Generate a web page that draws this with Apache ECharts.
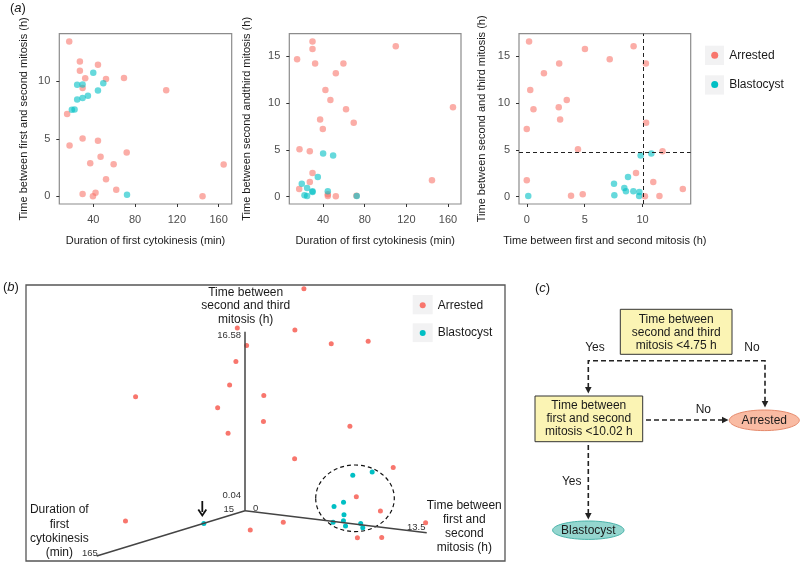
<!DOCTYPE html>
<html>
<head>
<meta charset="utf-8">
<script src="https://cdn.jsdelivr.net/npm/echarts@6.0.0/dist/echarts.min.js"></script>
<style>
  html, body { margin: 0; padding: 0; background: #fff; }
  #chart { width: 800px; height: 563px; }
</style>
</head>
<body>
<div id="chart"></div>
<script>
// one entry per embryo, same order in the three arrays of each group
// cyt = duration of first cytokinesis (min), t12 / t23 = time between mitoses (h)
const arrestedCyt = [17, 27.2, 44.5, 27.2, 69.4, 32.3, 52.2, 29.8, 109.8, 15, 29.8, 44.5, 17.3, 72, 47, 37.1, 59.5, 164.8, 52.2, 62, 42.2, 29.8, 39.7, 144.6]
const arrestedT12 = [13.47, 11.72, 11.45, 10.92, 10.3, 10.28, 10.2, 9.43, 9.22, 7.16, 5.02, 4.83, 4.42, 3.82, 3.45, 2.88, 2.8, 2.76, 1.48, 0.58, 0.3, 0.2, 0, 0]
const arrestedT23 = [0.82, 4.86, 0.07, 1.56, 7.9, 14.25, 0.04, 2.52, 16.1, 14.7, 15.8, 0.25, 5.07, 0.1, 10.35, 8.26, 14.25, 9.57, 13.2, 9.36, 11.4, 16.6, 7.23, 1.74]

const blastoCyt = [40, 49.6, 34.9, 19.5, 22.1, 24.6, 29.8, 44.5, 29.8, 24.6, 72.3]
const blastoT12 = [10.75, 9.83, 8.74, 7.53, 7.56, 8.42, 8.56, 9.2, 9.72, 9.7, 0.13]
const blastoT23 = [4.6, 4.4, 2.1, 1.38, 0.14, 0.92, 0.57, 0.57, 0.5, 0.07, 0.07]

// tick labels of panel (a)
const cytTicks = [40, 80, 120, 160]
const t12Ticks = [0, 5, 10]
const t23Ticks = [0, 5, 10, 15]

// decision tree thresholds (dashed lines + panel c)
const cutT23 = 4.75
const cutT12 = 10.02

// axis ranges of the 3d view in panel (b)
const cytRange = [15, 165]
const t12Range = [0, 13.5]
const t23Range = [0.04, 16.58]

const FONT = 'Liberation Sans, Arial, sans-serif'
const RED = '#F8766D'
const BLUE = '#00BFC4'

function pairs(xs, ys) {
  return xs.map((x, i) => [x, ys[i]])
}

// simple perspective camera for panel (b), grid 3 uses page-pixel units
const cam = {
  o: [245, 510.7],      // where the three axes meet
  u: [96.7, 556],       // end of cytokinesis axis
  v: [426.7, 532.7],    // end of first->second axis
  w: [245, 331.7],      // end of second->third axis
  cu: -0.346, cv: -0.2, cw: 0
}
function project(cyt, t12, t23) {
  let u = (cyt - cytRange[0]) / (cytRange[1] - cytRange[0])
  let v = (t12 - t12Range[0]) / (t12Range[1] - t12Range[0])
  let w = (t23 - t23Range[0]) / (t23Range[1] - t23Range[0])
  let d = 1 + cam.cu * u + cam.cv * v + cam.cw * w
  let p = [0, 1].map(k =>
    cam.o[k] + (u * (cam.u[k] - cam.o[k]) * (1 + cam.cu) +
                v * (cam.v[k] - cam.o[k]) * (1 + cam.cv) +
                w * (cam.w[k] - cam.o[k]) * (1 + cam.cw)) / d)
  return p
}
function project3(cyts, t12s, t23s) {
  return cyts.map((c, i) => project(c, t12s[i], t23s[i]))
}

function valueX(grid, min, max, name, ticks) {
  return {
    type: 'value', gridIndex: grid, min: min, max: max,
    name: name, nameLocation: 'middle', nameGap: 31,
    nameTextStyle: { fontFamily: FONT, fontSize: 11, color: '#1a1a1a' },
    axisLine: { show: false, onZero: false },
    splitLine: { show: false },
    axisTick: { show: true, length: 3, customValues: ticks, lineStyle: { color: '#333' } },
    axisLabel: { customValues: ticks, margin: 10, fontFamily: FONT, fontSize: 11, color: '#4d4d4d' }
  }
}
function valueY(grid, min, max, name, ticks, gap) {
  let ax = valueX(grid, min, max, name, ticks)
  ax.nameGap = gap
  ax.nameRotate = 90
  ax.axisLabel.margin = 9
  return ax
}

function scatterA(name, idx, data, color) {
  return {
    name: name, type: 'scatter', xAxisIndex: idx, yAxisIndex: idx,
    data: data, symbolSize: 6.5,
    itemStyle: { color: color, opacity: 0.6 }
  }
}

function axisLine3(a, b) {
  return {
    type: 'line', xAxisIndex: 3, yAxisIndex: 3, data: [a, b],
    symbol: 'none', silent: true,
    lineStyle: { color: '#444', width: 1.5 }
  }
}

function txt(x, y, text, opts) {
  return {
    type: 'text', x: x, y: y, silent: true,
    style: Object.assign({ text: text, fontFamily: FONT, fontSize: 12, fill: '#1a1a1a',
      align: 'center', verticalAlign: 'middle' }, opts || {})
  }
}
function dashed(points) {
  return {
    type: 'polyline', silent: true, shape: { points: points },
    style: { stroke: '#222', lineWidth: 1.6, lineDash: [5, 3], fill: null }
  }
}
function head(points) {
  return { type: 'polygon', silent: true, shape: { points: points }, style: { fill: '#222' } }
}

function getOption() {
  let origin = project(cytRange[0], t12Range[0], t23Range[0])
  let option = {
    animation: false,
    backgroundColor: '#fff',
    textStyle: { fontFamily: FONT },
    grid: [
      { left: 59.3, top: 33.7, width: 172.4, height: 170.3, show: true, borderColor: '#8c8c8c', borderWidth: 1.2, backgroundColor: 'transparent' },
      { left: 289.3, top: 33.7, width: 171.7, height: 170.3, show: true, borderColor: '#8c8c8c', borderWidth: 1.2, backgroundColor: 'transparent' },
      { left: 519, top: 33.7, width: 171.7, height: 170.3, show: true, borderColor: '#8c8c8c', borderWidth: 1.2, backgroundColor: 'transparent' },
      { left: 26, top: 285, width: 479, height: 276, show: true, borderColor: '#555', borderWidth: 1.3, backgroundColor: 'transparent' }
    ],
    xAxis: [
      valueX(0, 7.5, 172.5, 'Duration of first cytokinesis (min)', cytTicks),
      valueX(1, 7.5, 172.5, 'Duration of first cytokinesis (min)', cytTicks),
      valueX(2, -0.67, 14.15, 'Time between first and second mitosis (h)', t12Ticks),
      { type: 'value', gridIndex: 3, min: 26, max: 505, show: false }
    ],
    yAxis: [
      valueY(0, -0.67, 14.15, 'Time between first and second mitosis (h)', t12Ticks, 30),
      valueY(1, -0.79, 17.43, 'Time between second andthird mitosis (h)', t23Ticks, 37),
      valueY(2, -0.79, 17.43, 'Time between second and third mitosis (h)', t23Ticks, 32),
      { type: 'value', gridIndex: 3, min: 285, max: 561, inverse: true, show: false }
    ],
    legend: [
      {
        orient: 'vertical', left: 711.2, top: 49.3, padding: 0,
        itemWidth: 19, itemHeight: 7, itemGap: 17.2, icon: 'circle', selectedMode: false,
        textStyle: { fontFamily: FONT, fontSize: 12, color: '#1a1a1a' },
        data: [{ name: 'Arrested', itemStyle: { color: RED, opacity: 1 } },
               { name: 'Blastocyst', itemStyle: { color: BLUE, opacity: 1 } }]
      },
      {
        orient: 'vertical', left: 419.7, top: 299.3, padding: 0,
        itemWidth: 20, itemHeight: 6, itemGap: 15.6, icon: 'circle', selectedMode: false,
        textStyle: { fontFamily: FONT, fontSize: 12, color: '#1a1a1a' },
        data: [{ name: 'Arrested', itemStyle: { color: RED, opacity: 1 } },
               { name: 'Blastocyst', itemStyle: { color: BLUE, opacity: 1 } }]
      }
    ],
    series: [
      scatterA('Arrested', 0, pairs(arrestedCyt, arrestedT12), RED),
      scatterA('Blastocyst', 0, pairs(blastoCyt, blastoT12), BLUE),
      scatterA('Arrested', 1, pairs(arrestedCyt, arrestedT23), RED),
      scatterA('Blastocyst', 1, pairs(blastoCyt, blastoT23), BLUE),
      scatterA('Arrested', 2, pairs(arrestedT12, arrestedT23), RED),
      scatterA('Blastocyst', 2, pairs(blastoT12, blastoT23), BLUE),
      // 3d axes of panel (b)
      axisLine3(origin, project(cytRange[1], t12Range[0], t23Range[0])),
      axisLine3(origin, project(cytRange[0], t12Range[1], t23Range[0])),
      axisLine3(origin, project(cytRange[0], t12Range[0], t23Range[1])),
      {
        name: 'Arrested', type: 'scatter', xAxisIndex: 3, yAxisIndex: 3,
        data: project3(arrestedCyt, arrestedT12, arrestedT23),
        symbolSize: 5, itemStyle: { color: RED, opacity: 1 }
      },
      {
        name: 'Blastocyst', type: 'scatter', xAxisIndex: 3, yAxisIndex: 3,
        data: project3(blastoCyt, blastoT12, blastoT23),
        symbolSize: 5, itemStyle: { color: BLUE, opacity: 1 }
      }
    ]
  }

  // thresholds in the third scatter
  option.series[4].markLine = {
    silent: true, symbol: 'none', label: { show: false },
    lineStyle: { color: '#222', type: [4, 3], width: 1 },
    data: [{ xAxis: cutT12 }, { yAxis: cutT23 }]
  }

  let keyBg = { fill: '#f2f2f3' }
  option.graphic = [
    // panel letters
    txt(10, 8, '({i|a})', { align: 'left', fontSize: 13, rich: { i: { fontStyle: 'italic', fontSize: 13, fontFamily: FONT } } }),
    txt(3, 287, '({i|b})', { align: 'left', fontSize: 13, rich: { i: { fontStyle: 'italic', fontSize: 13, fontFamily: FONT } } }),
    txt(535, 288, '({i|c})', { align: 'left', fontSize: 13, rich: { i: { fontStyle: 'italic', fontSize: 13, fontFamily: FONT } } }),

    // legend key backgrounds
    { type: 'rect', z: 0, shape: { x: 705, y: 45.7, width: 19, height: 19.3 }, style: keyBg },
    { type: 'rect', z: 0, shape: { x: 705, y: 75.3, width: 19, height: 19.3 }, style: keyBg },
    { type: 'rect', z: 0, shape: { x: 412.7, y: 295, width: 20, height: 19.3 }, style: keyBg },
    { type: 'rect', z: 0, shape: { x: 412.7, y: 323.3, width: 20, height: 18.8 }, style: keyBg },

    // panel (b) axis titles and end labels
    txt(245.7, 306, 'Time between\nsecond and third\nmitosis (h)', { lineHeight: 13.3 }),
    txt(59.3, 531.5, 'Duration of\nfirst\ncytokinesis\n(min)', { lineHeight: 14.4 }),
    txt(464.3, 526.3, 'Time between\nfirst and\nsecond\nmitosis (h)', { lineHeight: 14 }),
    txt(241, 335, String(t23Range[1]), { align: 'right', fontSize: 9.5, fill: '#333' }),
    txt(241, 495, String(t23Range[0]), { align: 'right', fontSize: 9.5, fill: '#333' }),
    txt(234, 509, String(cytRange[0]), { align: 'right', fontSize: 9.5, fill: '#333' }),
    txt(253, 508, String(t12Range[0]), { align: 'left', fontSize: 9.5, fill: '#333' }),
    txt(82, 553.5, String(cytRange[1]), { align: 'left', fontSize: 9.5, fill: '#333' }),
    txt(407, 527.5, String(t12Range[1]), { align: 'left', fontSize: 9.5, fill: '#333' }),

    // arrow to the lone blastocyst and the dashed ring around the cluster
    { type: 'line', silent: true, shape: { x1: 202.3, y1: 501, x2: 202.3, y2: 512 }, style: { stroke: '#111', lineWidth: 1.8 } },
    { type: 'polyline', silent: true, shape: { points: [[198.3, 509.5], [202.3, 515.5], [206.3, 509.5]] }, style: { stroke: '#111', lineWidth: 1.8, fill: null } },
    { type: 'ellipse', silent: true, shape: { cx: 355, cy: 498.3, rx: 39.3, ry: 33.3 }, style: { fill: null, stroke: '#111', lineWidth: 1.2, lineDash: [4, 3] } },

    // panel (c) decision tree
    { type: 'rect', silent: true, shape: { x: 620.3, y: 309.3, width: 111.7, height: 45 }, style: { fill: '#fbf4b4', stroke: '#333', lineWidth: 1 } },
    txt(676.2, 332.3, 'Time between\nsecond and third\nmitosis <' + cutT23 + ' h', { lineHeight: 13 }),
    txt(595, 347.7, 'Yes'),
    txt(752, 347.7, 'No'),
    dashed([[588.3, 388], [588.3, 360.7], [765, 360.7], [765, 401]]),
    head([[585, 387], [591.6, 387], [588.3, 393.5]]),
    head([[761.7, 401], [768.3, 401], [765, 407.5]]),

    { type: 'rect', silent: true, shape: { x: 535, y: 396, width: 107.7, height: 45.7 }, style: { fill: '#fbf4b4', stroke: '#333', lineWidth: 1 } },
    txt(588.8, 418.7, 'Time between\nfirst and second\nmitosis <' + cutT12 + ' h', { lineHeight: 13.4 }),
    dashed([[646, 420], [723, 420]]),
    head([[722, 416.7], [722, 423.3], [728.5, 420]]),
    txt(703.3, 409.3, 'No'),
    { type: 'ellipse', silent: true, shape: { cx: 764.3, cy: 420.3, rx: 35, ry: 10.3 }, style: { fill: '#f9bba3', stroke: '#e58a6c', lineWidth: 1 } },
    txt(764.3, 420.5, 'Arrested'),

    dashed([[588.3, 445], [588.3, 513]]),
    head([[585, 513], [591.6, 513], [588.3, 519.5]]),
    txt(571.7, 481.7, 'Yes'),
    { type: 'ellipse', silent: true, shape: { cx: 588.3, cy: 530.2, rx: 35.7, ry: 9.2 }, style: { fill: '#94d6cf', stroke: '#4bb3aa', lineWidth: 1 } },
    txt(588.3, 530.4, 'Blastocyst')
  ]
  return option
}

function plot() {
  let chart = echarts.init(document.getElementById('chart'), null, { renderer: 'canvas' })
  chart.setOption(getOption())
}
plot()
</script>
</body>
</html>
